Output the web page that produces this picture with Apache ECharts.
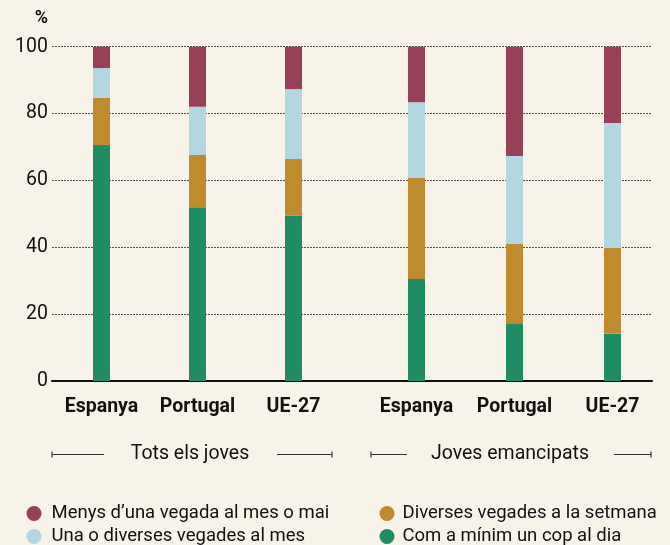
<!DOCTYPE html>
<html>
<head>
<meta charset="utf-8">
<script src="https://cdn.jsdelivr.net/npm/echarts@6/dist/echarts.min.js"></script>
<style>
  html, body { margin: 0; padding: 0; background: #f7f3e9; }
  #chart { width: 670px; height: 545px; }
</style>
</head>
<body>
<div id="chart"></div>
<script>
// Frequency shares (%) for each country, in two groups of young people
const countries = ['Espanya', 'Portugal', 'UE-27'];
const groupNames = ['Tots els joves', 'Joves emancipats'];
const seriesNames = [
  'Com a mínim un cop al dia',
  'Diverses vegades a la setmana',
  'Una o diverses vegades al mes',
  'Menys d\u2019una vegada al mes o mai'
];
const seriesColors = ['#1f8c63', '#c08a2f', '#b3d7e2', '#974057'];

// Tots els joves
const totsDaily   = [70.6, 52.0, 49.4];
const totsWeekly  = [14.1, 15.6, 17.0];
const totsMonthly = [8.9, 14.4, 20.9];
const totsRarely  = [6.4, 18.0, 12.7];

// Joves emancipats
const emanDaily   = [30.5, 17.3, 14.1];
const emanWeekly  = [30.2, 23.7, 25.7];
const emanMonthly = [22.7, 26.3, 37.4];
const emanRarely  = [16.6, 32.7, 22.8];

const yTicks = [0, 20, 40, 60, 80, 100];

const FONT = 'Roboto, "Liberation Sans", sans-serif';
const chart = echarts.init(document.getElementById('chart'));

const TOP = 46.7, BOTTOM = 164;

function barSeries(axisIndex, values) {
  return values.map((vals, i) => ({
    name: seriesNames[i],
    type: 'bar',
    stack: 'g' + axisIndex,
    xAxisIndex: axisIndex,
    yAxisIndex: axisIndex,
    barWidth: 17,
    data: vals,
    itemStyle: { color: seriesColors[i] },
    emphasis: { disabled: true },
    z: 5
  }));
}

function catAxis(gridIndex) {
  return {
    type: 'category',
    gridIndex,
    data: countries,
    axisLine: { show: false },
    axisTick: { show: false },
    axisLabel: {
      interval: 0,
      color: '#111',
      fontFamily: FONT,
      fontWeight: 'bold',
      fontSize: 19.5,
      margin: 16
    }
  };
}

function hiddenY(gridIndex) {
  return {
    type: 'value', gridIndex, min: 0, max: 100, interval: 20,
    axisLabel: { show: false }, axisLine: { show: false },
    axisTick: { show: false }, splitLine: { show: false }
  };
}

// bracket drawn under each group title
function bracket(x1, x2, x3, x4, cx, label) {
  const y = 454.5;
  const line = { stroke: '#333', lineWidth: 1.2 };
  return [
    { type: 'line', shape: { x1: x1, y1: y, x2: x2, y2: y }, style: line },
    { type: 'line', shape: { x1: x1, y1: y - 3, x2: x1, y2: y + 3 }, style: line },
    { type: 'line', shape: { x1: x3, y1: y, x2: x4, y2: y }, style: line },
    { type: 'line', shape: { x1: x4, y1: y - 3, x2: x4, y2: y + 3 }, style: line },
    { type: 'text', x: cx, y: y, style: {
        text: label, fill: '#111', font: '19.5px ' + FONT,
        textAlign: 'center', textVerticalAlign: 'middle' } }
  ];
}

function legendBlock(names, left, textPad) {
  return {
    data: names,
    orient: 'vertical', left: left, top: 504, height: 60, padding: 0,
    itemGap: 4,
    icon: 'circle', itemWidth: 15, itemHeight: 15,
    textStyle: { color: '#111', fontFamily: FONT, fontSize: 18.5, lineHeight: 19, padding: [0, 0, 0, textPad] },
    selectedMode: false
  };
}

chart.setOption({
  backgroundColor: '#f7f3e9',
  animation: false,
  grid: [
    { left: 52, right: 18, top: TOP, bottom: BOTTOM },
    { left: 53.5, width: 288, top: TOP, bottom: BOTTOM },
    { left: 367.5, width: 294, top: TOP, bottom: BOTTOM }
  ],
  xAxis: [
    {
      type: 'category', gridIndex: 0, data: [''],
      axisLine: { lineStyle: { color: '#111', width: 2 } },
      axisTick: { show: false }, axisLabel: { show: false }
    },
    catAxis(1),
    catAxis(2)
  ],
  yAxis: [
    {
      type: 'value', gridIndex: 0, min: 0, max: 100, interval: 20,
      name: '%',
      nameLocation: 'end',
      nameGap: 19,
      nameTextStyle: { color: '#111', fontFamily: FONT, fontSize: 18, fontWeight: 'bold', align: 'right', padding: [0, 4, 0, 0] },
      axisLine: { show: false },
      axisTick: { show: false },
      axisLabel: {
        color: '#111', fontFamily: FONT, fontSize: 19.5, margin: 4,
        formatter: v => yTicks.includes(v) ? String(v) : ''
      },
      splitLine: { lineStyle: { color: '#555', type: [2, 1], width: 1 } }
    },
    hiddenY(1),
    hiddenY(2)
  ],
  legend: [
    legendBlock([seriesNames[3], seriesNames[2]], 26.5, 5),
    legendBlock([seriesNames[1], seriesNames[0]], 379.5, 3)
  ],
  graphic: [
    ...bracket(52, 104, 277, 332, 190, groupNames[0]),
    ...bracket(371, 407, 614, 651, 510, groupNames[1])
  ],
  series: [
    ...barSeries(1, [totsDaily, totsWeekly, totsMonthly, totsRarely]),
    ...barSeries(2, [emanDaily, emanWeekly, emanMonthly, emanRarely])
  ]
});
</script>
</body>
</html>
